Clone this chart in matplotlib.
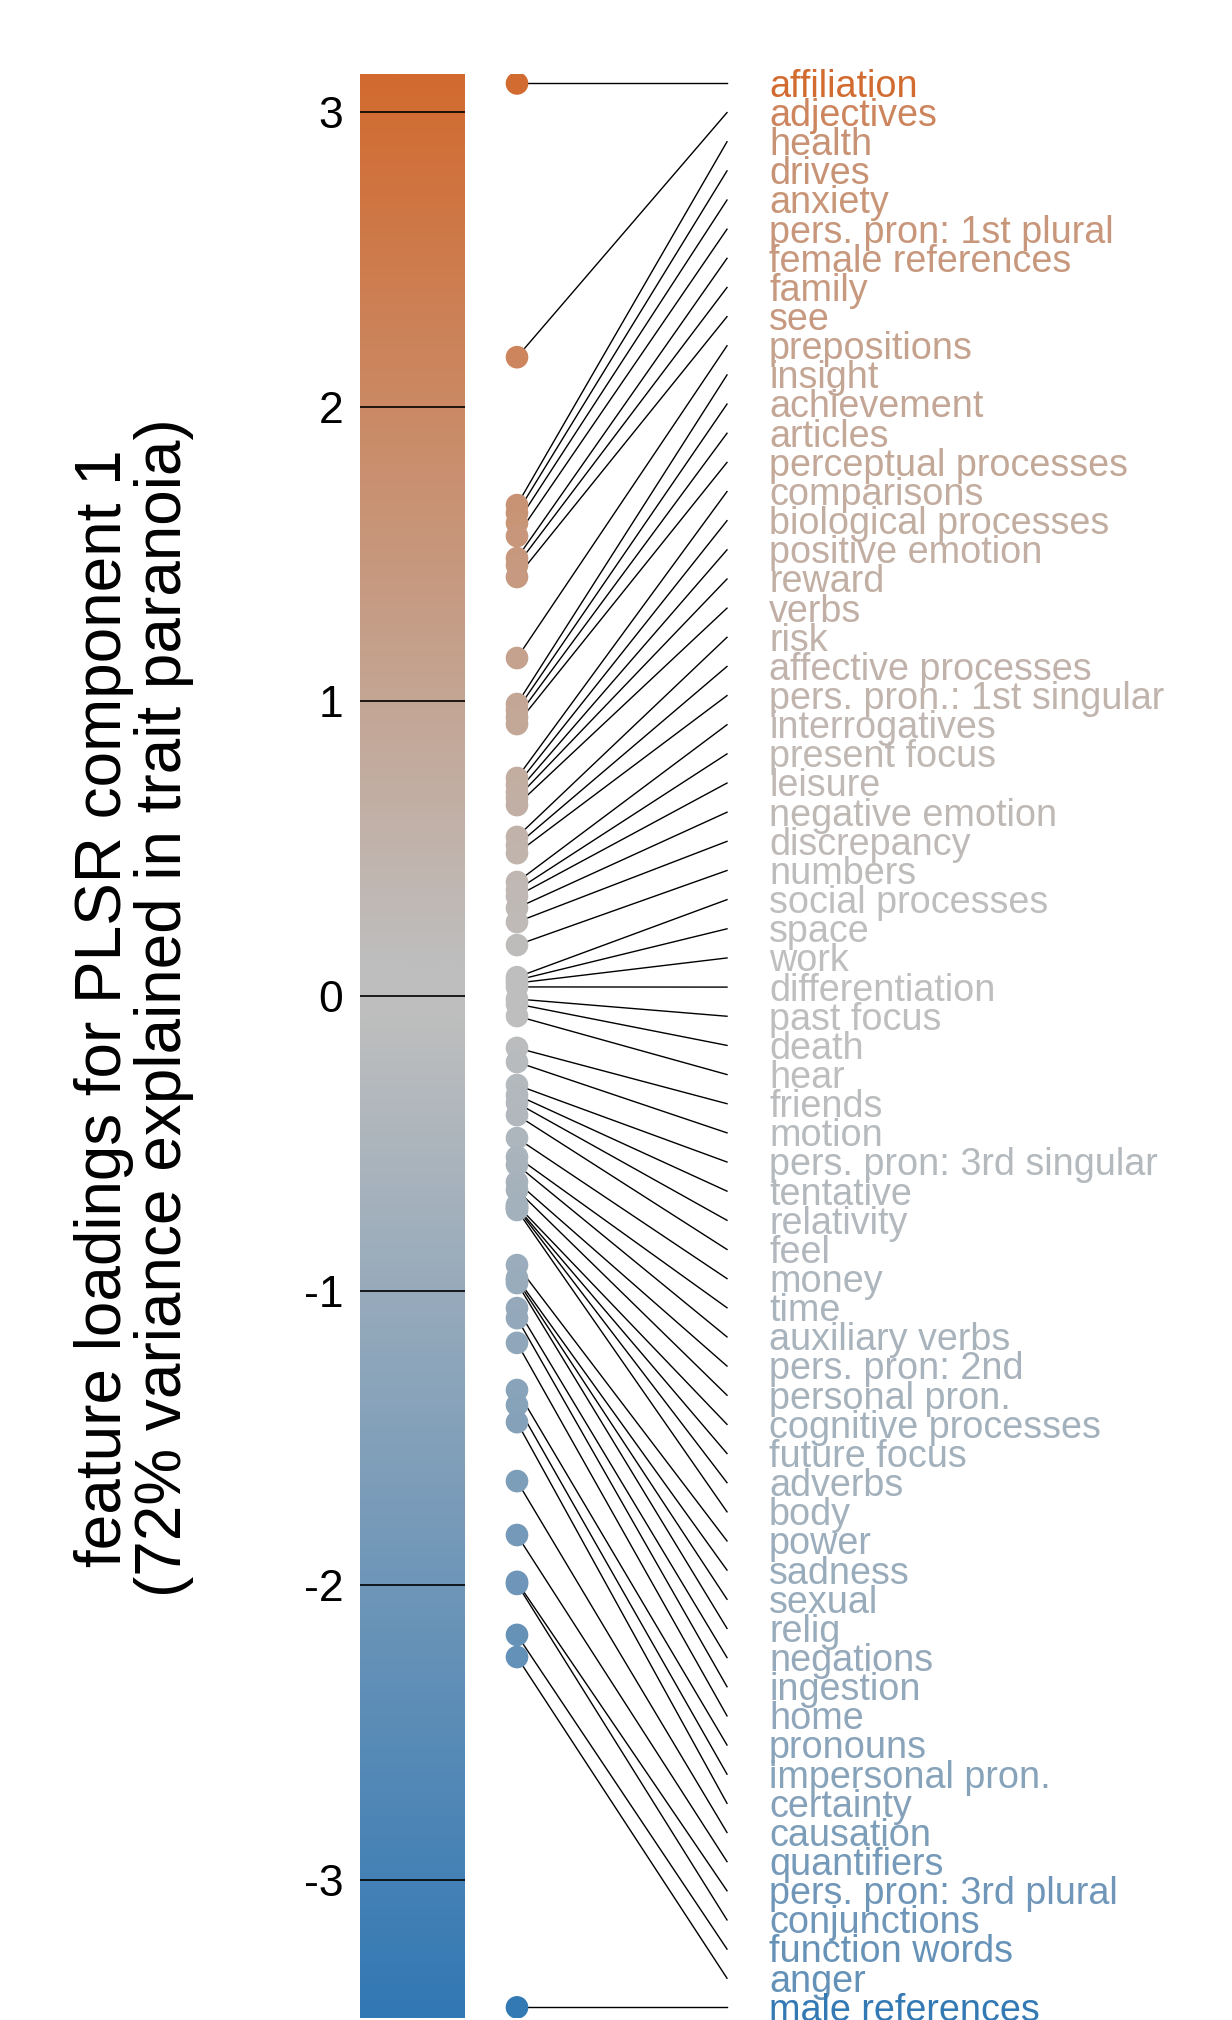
import numpy as np
import matplotlib.pyplot as plt
from matplotlib.colors import LinearSegmentedColormap, TwoSlopeNorm

plt.rcParams['font.family'] = ['Liberation Sans', 'DejaVu Sans']
plt.rcParams['axes.unicode_minus'] = False

# LIWC features, ordered by loading on the first PLSR component
features = [
    'affiliation', 'adjectives', 'health', 'drives', 'anxiety',
    'pers. pron: 1st plural', 'female references', 'family', 'see',
    'prepositions', 'insight', 'achievement', 'articles',
    'perceptual processes', 'comparisons', 'biological processes',
    'positive emotion', 'reward', 'verbs', 'risk', 'affective processes',
    'pers. pron.: 1st singular', 'interrogatives', 'present focus',
    'leisure', 'negative emotion', 'discrepancy', 'numbers',
    'social processes', 'space', 'work', 'differentiation', 'past focus',
    'death', 'hear', 'friends', 'motion', 'pers. pron: 3rd singular',
    'tentative', 'relativity', 'feel', 'money', 'time', 'auxiliary verbs',
    'pers. pron: 2nd', 'personal pron.', 'cognitive processes',
    'future focus', 'adverbs', 'body', 'power', 'sadness', 'sexual', 'relig',
    'negations', 'ingestion', 'home', 'pronouns', 'impersonal pron.',
    'certainty', 'causation', 'quantifiers', 'pers. pron: 3rd plural',
    'conjunctions', 'function words', 'anger', 'male references',
]
loadings = [
    3.097, 2.168, 1.666, 1.639, 1.605,
    1.561, 1.486, 1.462, 1.422,
    1.147, 0.991, 0.970, 0.946,
    0.923, 0.740, 0.716,
    0.692, 0.672, 0.648, 0.540, 0.512,
    0.485, 0.387, 0.360,
    0.339, 0.299, 0.251, 0.173,
    0.064, 0.054, 0.044, 0.031, -0.010,
    -0.027, -0.068, -0.176, -0.224, -0.302,
    -0.336, -0.363, -0.404, -0.482, -0.546, -0.573,
    -0.631, -0.658, -0.709,
    -0.716, -0.719, -0.726, -0.913, -0.957, -0.964, -0.974,
    -1.059, -1.093, -1.177, -1.337, -1.388,
    -1.446, -1.646, -1.829, -1.988,
    -1.995, -2.168, -2.243, -3.432,
]
ticks = [-3, -2, -1, 0, 1, 2, 3]
ylabel = 'feature loadings for PLSR component 1\n(72% variance explained in trait paranoia)'

lo, hi = -3.467, 3.129
cmap = LinearSegmentedColormap.from_list(
    'loading', [(0, '#3278b4'), (0.49, '#bebebe'), (0.52, '#bebebe'), (1, '#d26a2f')])
norm = TwoSlopeNorm(vcenter=0, vmin=lo, vmax=hi)

W, H = 1232, 2020
fig = plt.figure(figsize=(W / 100, H / 100), dpi=100)
bottom = 2.3 / H
height = (2017.7 - 74) / H

# colour bar with a black rule at every tick
cax = fig.add_axes([360 / W, bottom, 105 / W, height])
grad = np.linspace(lo, hi, 800).reshape(-1, 1)
cax.imshow(grad, cmap=cmap, norm=norm, origin='lower',
           extent=(0, 1, lo, hi), aspect='auto')
for t in ticks:
    cax.axhline(t, color='k', lw=1.2)
cax.set_ylim(lo, hi)
cax.set_xticks([])
cax.set_yticks(ticks)
cax.tick_params(axis='y', length=0, pad=12, labelsize=32)
for s in cax.spines.values():
    s.set_visible(False)

# dots at their loading, joined to evenly spaced labels
ax = fig.add_axes([480 / W, bottom, (W - 480) / W, height])
ax.set_xlim((480 - 517) / 210, (W - 517) / 210)
ax.set_ylim(lo, hi)
ax.axis('off')

vals = np.array(loadings)
label_y = np.linspace(vals[0], vals[-1], len(vals))
for v, ly, name in zip(vals, label_y, features):
    ax.plot([0, 1], [v, ly], color='k', lw=1.0, zorder=1)
    ax.text(1.2, ly - 0.0455, name, color=cmap(norm(v)), fontsize=27.2,
            ha='left', va='baseline')
ax.scatter(np.zeros(len(vals)), vals, s=266, c=vals, cmap=cmap, norm=norm,
           linewidths=0, zorder=2)

fig.text(134 / W, 1 - 1008 / H, ylabel, rotation=90, ha='center', va='center',
         fontsize=46, linespacing=1.0, multialignment='center')

fig.savefig('out.png', dpi=100)
